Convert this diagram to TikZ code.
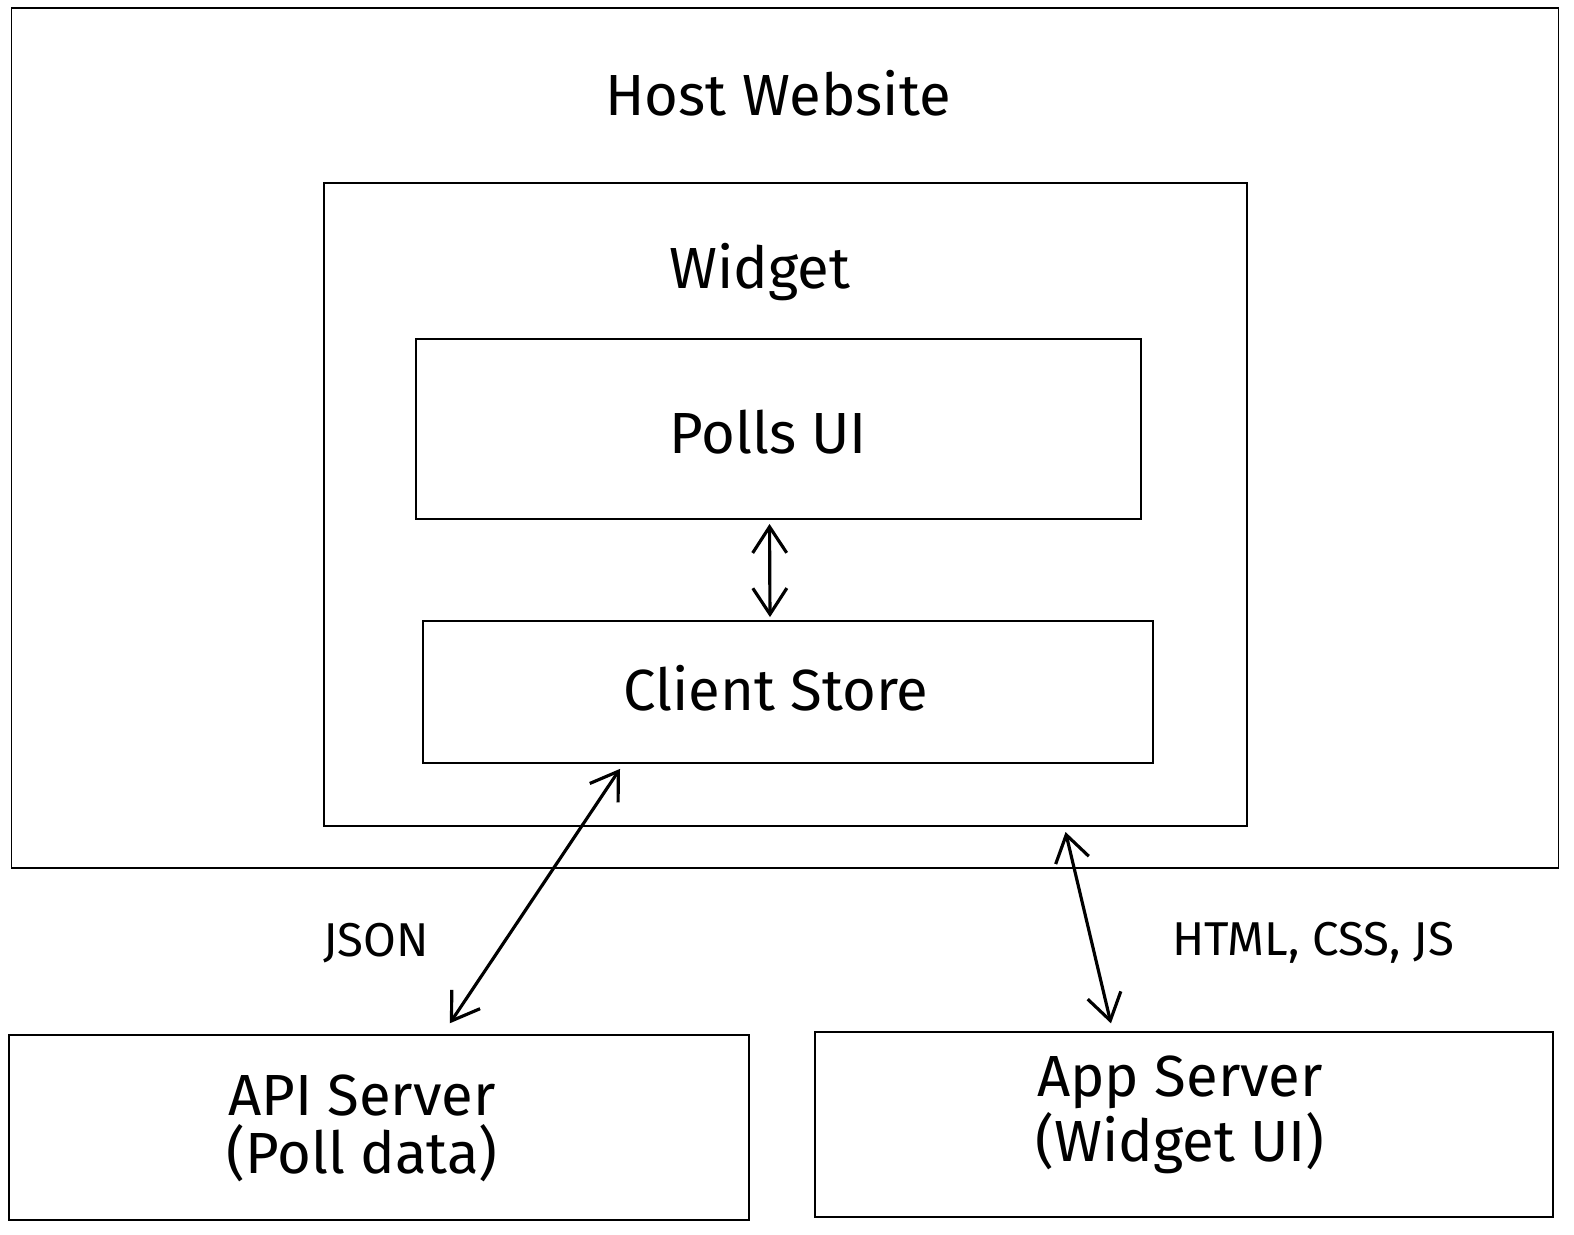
\documentclass[tikz,border=0pt]{standalone}
\usepackage{fontspec}
\setmainfont{Fira Sans}
\usepackage{tikz}
\usetikzlibrary{arrows.meta}
\usetikzlibrary{positioning}
\tikzstyle{base}=[x=0.01cm, y=-0.01cm, inner sep=0pt, outer sep=0pt]
\tikzstyle{box}=[draw=black, line width=0.5pt, fill=white]
\tikzstyle{link}=[black, line width=0.9pt, {Straight Barb[length=2.6mm,width=3.4mm]}-{Straight Barb[length=2.6mm,width=3.4mm]}]
\tikzstyle{big}=[font=\fontsize{16.5}{16.5}\selectfont]
\tikzstyle{small}=[font=\fontsize{13.5}{16}\selectfont, align=center]

\begin{document}
\begin{tikzpicture}[base]
    \useasboundingbox (0,0) rectangle (1574,1234);
    % outer boxes
    \node [box, minimum width=15.46cm, minimum height=8.60cm] (host) at (785,438) {};
    \node [box, minimum width=9.23cm, minimum height=6.43cm] (widget) at (785.5,504.5) {};
    \node [box, minimum width=7.25cm, minimum height=1.80cm] (polls) at (778.5,429) {};
    \node [box, minimum width=7.30cm, minimum height=1.42cm] (store) at (788,692) {};
    \node [box, minimum width=7.40cm, minimum height=1.85cm] (api) at (379,1127.5) {};
    \node [box, minimum width=7.38cm, minimum height=1.85cm] (app) at (1184,1124.5) {};
    % labels
    \node [big] (hostlabel) at (778,93) {Host Website};
    \node [big] (widgetlabel) at (760,272) {Widget};
    \node [big] (pollslabel) at (768,432) {Polls UI};
    \node [big] (storelabel) at (776,688) {Client Store};
    \node [big, align=center] (apilabel) at (362,1128) {API Server\\(Poll data)};
    \node [big, align=center] (applabel) at (1180,1115) {App Server\\(Widget UI)};
    \node [small] (json) at (376,943) {JSON};
    \node [small] (assets) at (1313,943) {HTML, CSS, JS};
    % connectors
    \draw [link, shorten <=1.4pt, shorten >=1.1pt] ([xshift=-0.09cm]polls.south) -- ([xshift=-0.18cm]store.north);
    \draw [link, shorten <=2pt, shorten >=4pt] ([xshift=-1.64cm]store.south) -- ([xshift=0.63cm]api.north);
    \draw [link, shorten <=1.7pt, shorten >=2.5pt] ([xshift=2.785cm]widget.south) -- ([xshift=-0.71cm]app.north);
\end{tikzpicture}
\end{document}
